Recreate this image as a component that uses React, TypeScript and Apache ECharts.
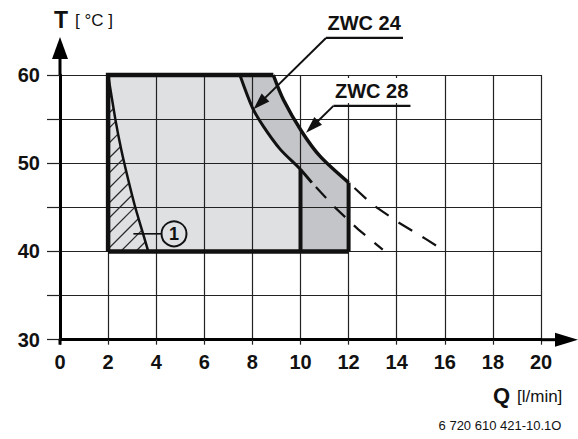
import { useEffect, useRef } from 'react';
import * as echarts from 'echarts';

// ---- axis data ----
const xTickLabels = ['0', '2', '4', '6', '8', '10', '12', '14', '16', '18', '20'];
const yTickLabels = ['30', '40', '50', '60'];
const xMin = 0, xMax = 20, xStep = 2;
const yMin = 30, yMax = 60, yStep = 5;

// ---- curves: [Q l/min, T °C] ----
const zwc24Solid = [[7.48, 60], [8.0, 56.3], [8.45, 54.2], [9.15, 51.6], [10.0, 49.3], [10.47, 47.8]];
const zwc24Dashed = [[10.47, 47.8], [11.43, 45.0], [12.4, 42.5], [13.42, 40.2]];
const zwc28Solid = [[8.87, 60], [9.29, 57.2], [10.05, 53.6], [10.81, 50.8], [12.0, 47.8]];
const zwc28Dashed = [[12.0, 47.8], [13.0, 45.3], [14.07, 43.3], [15.22, 41.4], [15.85, 40.3]];
const hatchCurve = [[2, 60], [2.3, 55], [2.55, 51.5], [2.84, 48.1], [3.12, 45.1], [3.4, 42.5], [3.67, 40]];
const frameTopLeft = [[2, 40], [2, 60], [8.87, 60]];
const frameBottom = [[2, 40], [12, 40]];
const wall24 = [[10, 40], [10, 49.3]];
const wall28 = [[12, 40], [12, 47.8]];

// regions
const zwc24Upper = zwc24Solid.filter((p) => p[0] <= 10);
const lightRegion = [[2, 40], [2, 60], ...zwc24Upper, [10, 40]];
const midRegion = [...zwc24Upper, [10, 40], [12, 40], ...zwc28Solid.slice().reverse()];

// annotations (data coordinates)
const notes = [
  { text: 'ZWC 24', anchor: [11.06, 64.2], tip: [8.04, 56.1], mask: false },
  { text: 'ZWC 28', anchor: [11.37, 56.5], tip: [10.23, 53.45], mask: true },
];
const marker = { text: '1', center: [4.74, 42.0], leaderFrom: [3.05, 42.0] };
const footer = '6 720 610 421-10.1O';

const LIGHT = '#dfe0e2';
const MID = '#c4c5c8';
const INK = '#111111';
const GRID = '#222222';
const FONT = '"Liberation Sans", Arial, Helvetica, sans-serif';

export default function App() {
  const ref = useRef<HTMLDivElement>(null);

  useEffect(() => {
    if (!ref.current) return;
    const chart = echarts.init(ref.current, undefined, { renderer: 'svg' });

    const fills = (_params: any, api: any) => {
      const px = (pts: number[][]) => pts.map((p) => api.coord(p));
      const children: any[] = [
        { type: 'polygon', shape: { points: px(lightRegion) }, style: { fill: LIGHT } },
        { type: 'polygon', shape: { points: px(midRegion) }, style: { fill: MID } },
      ];
      // hatch lines "/" inside area left of hatchCurve
      const hp = px(hatchCurve);
      const corner = api.coord([2, 40]);
      const xL = corner[0];
      const yB = corner[1];
      const sums = hp.map((p: number[]) => p[0] + p[1]);
      const cEnd = sums[sums.length - 1];
      const step = 15;
      for (let c = sums[0] + 9; c < cEnd - 2; c += step) {
        let sx: number, sy: number;
        if (c - xL <= yB) { sx = xL; sy = c - xL; } else { sx = c - yB; sy = yB; }
        let ex = sx, ey = sy;
        for (let i = 0; i < hp.length - 1; i++) {
          if (sums[i] <= c && c <= sums[i + 1]) {
            const t = (c - sums[i]) / (sums[i + 1] - sums[i]);
            ex = hp[i][0] + t * (hp[i + 1][0] - hp[i][0]);
            ey = hp[i][1] + t * (hp[i + 1][1] - hp[i][1]);
            break;
          }
        }
        children.push({ type: 'line', shape: { x1: sx, y1: sy, x2: ex, y2: ey }, style: { stroke: '#2a2a2a', lineWidth: 1.2 } });
      }
      return { type: 'group', children };
    };

    const strokes = (_params: any, api: any) => {
      const px = (pts: number[][]) => pts.map((p) => api.coord(p));
      const pl = (pts: number[][], w: number, extra: any = {}, smooth = 0) => ({
        type: 'polyline',
        shape: { points: px(pts), smooth },
        style: { stroke: INK, lineWidth: w, fill: 'none', lineJoin: 'miter', lineCap: 'butt', ...extra },
      });
      return {
        type: 'group',
        children: [
          pl(hatchCurve, 2.5, {}, 0.2),
          pl(zwc24Dashed, 2.2, { lineDash: [15, 12], lineDashOffset: -6 }),
          pl(zwc28Dashed, 2.2, { lineDash: [16, 12], lineDashOffset: -8 }),
          pl(zwc24Solid, 3, {}, 0.3),
          pl(zwc28Solid, 3.5, {}, 0.3),
          pl(wall24, 4),
          pl(wall28, 4),
          pl(frameBottom, 4.5),
          pl(frameTopLeft, 4.5),
        ],
      };
    };

    chart.setOption({
      animation: false,
      grid: { left: 60, right: 37, top: 75, bottom: 99.3, containLabel: false },
      xAxis: {
        type: 'value', min: xMin, max: xMax, interval: xStep, z: 3,
        axisLine: { show: true, lineStyle: { color: '#000', width: 3 } },
        axisTick: { show: true, length: 5, lineStyle: { color: GRID, width: 1.2 } },
        splitLine: { show: true, lineStyle: { color: GRID, width: 1.2 } },
        axisLabel: {
          show: true, margin: 12, color: INK, fontSize: 20, fontWeight: 'bold', fontFamily: FONT,
          showMinLabel: true, showMaxLabel: true,
          formatter: (v: number) => (xTickLabels.includes(String(v)) ? String(v) : ''),
        },
      },
      yAxis: {
        type: 'value', min: yMin, max: yMax, interval: yStep, z: 3,
        axisLine: { show: true, lineStyle: { color: '#000', width: 3 } },
        axisTick: { show: true, length: 13, lineStyle: { color: GRID, width: 1.2 } },
        splitLine: { show: true, lineStyle: { color: GRID, width: 1.2 } },
        axisLabel: {
          show: true, margin: 20, color: INK, fontSize: 20, fontWeight: 'bold', fontFamily: FONT,
          showMinLabel: true, showMaxLabel: true,
          formatter: (v: number) => (yTickLabels.includes(String(v)) ? String(v) : ''),
        },
      },
      series: [
        { type: 'custom', z: 1, data: [[0, 0]], renderItem: fills, silent: true, clip: false },
        { type: 'custom', z: 5, data: [[0, 0]], renderItem: strokes, silent: true, clip: false },
      ],
    });

    const P = (p: number[]) => chart.convertToPixel({ gridIndex: 0 }, p) as number[];
    const o = P([xMin, yMin]);
    const xe = P([xMax, yMin]);
    const ye = P([xMin, yMax]);
    const g: any[] = [];
    // axis extensions and arrows
    g.push({ type: 'line', z: 20, shape: { x1: xe[0], y1: xe[1], x2: xe[0] + 16, y2: xe[1] }, style: { stroke: '#000', lineWidth: 3 } });
    g.push({ type: 'polygon', z: 20, shape: { points: [[xe[0] + 14, xe[1] - 7], [xe[0] + 37, xe[1]], [xe[0] + 14, xe[1] + 7]] }, style: { fill: '#000' } });
    g.push({ type: 'line', z: 20, shape: { x1: ye[0], y1: ye[1], x2: ye[0], y2: ye[1] - 18 }, style: { stroke: '#000', lineWidth: 3 } });
    g.push({ type: 'line', z: 20, shape: { x1: o[0], y1: o[1], x2: o[0], y2: o[1] + 5 }, style: { stroke: '#000', lineWidth: 3 } });
    g.push({ type: 'polygon', z: 20, shape: { points: [[ye[0] - 8, ye[1] - 16], [ye[0], ye[1] - 38], [ye[0] + 8, ye[1] - 16]] }, style: { fill: '#000' } });
    // axis titles
    g.push({ type: 'text', z: 20, x: ye[0] - 6, y: ye[1] - 55, style: { text: 'T', font: `bold 23px ${FONT}`, fill: INK, align: 'left', verticalAlign: 'middle' } });
    g.push({ type: 'text', z: 20, x: ye[0] + 15, y: ye[1] - 54.5, style: { text: '[ °C ]', font: `17px ${FONT}`, fill: INK, align: 'left', verticalAlign: 'middle' } });
    g.push({ type: 'text', z: 20, x: xe[0] - 48, y: o[1] + 56, style: { text: 'Q', font: `bold 22px ${FONT}`, fill: INK, align: 'left', verticalAlign: 'middle' } });
    g.push({ type: 'text', z: 20, x: xe[0] - 24, y: o[1] + 56.5, style: { text: '[l/min]', font: `17px ${FONT}`, fill: INK, align: 'left', verticalAlign: 'middle' } });
    g.push({ type: 'text', z: 20, x: xe[0] - 41, y: o[1] + 86, style: { text: footer, font: `13px ${FONT}`, fill: INK, align: 'center', verticalAlign: 'middle' } });

    // ZWC notes
    notes.forEach((n) => {
      const a = P(n.anchor);
      const t = P(n.tip);
      const w = 77;
      if (n.mask) {
        g.push({ type: 'rect', z: 18, shape: { x: a[0] - 3, y: a[1] - 28, width: w + 6, height: 25 }, style: { fill: '#fff' } });
      }
      g.push({ type: 'text', z: 20, x: a[0] + 1.5, y: a[1] - 15, style: { text: n.text, font: `bold 20px ${FONT}`, fill: INK, align: 'left', verticalAlign: 'middle' } });
      g.push({ type: 'line', z: 20, shape: { x1: a[0], y1: a[1], x2: a[0] + w, y2: a[1] }, style: { stroke: INK, lineWidth: 2.2 } });
      const dx = t[0] - a[0], dy = t[1] - a[1];
      const len = Math.hypot(dx, dy);
      const ux = dx / len, uy = dy / len;
      const L = 17, H = 5.5;
      const bx = t[0] - ux * L, by = t[1] - uy * L;
      g.push({ type: 'line', z: 20, shape: { x1: a[0], y1: a[1], x2: bx + ux * 2, y2: by + uy * 2 }, style: { stroke: INK, lineWidth: 2 } });
      g.push({ type: 'polygon', z: 20, shape: { points: [[t[0], t[1]], [bx - uy * H, by + ux * H], [bx + uy * H, by - ux * H]] }, style: { fill: INK } });
    });

    // circled marker
    const c = P(marker.center);
    const lf = P(marker.leaderFrom);
    g.push({ type: 'line', z: 20, shape: { x1: lf[0], y1: lf[1], x2: c[0] - 12.5, y2: c[1] }, style: { stroke: INK, lineWidth: 1.6 } });
    g.push({ type: 'circle', z: 20, shape: { cx: c[0], cy: c[1], r: 12.5 }, style: { fill: LIGHT, stroke: INK, lineWidth: 2 } });
    g.push({ type: 'text', z: 21, x: c[0], y: c[1] + 0.5, style: { text: marker.text, font: `bold 18px ${FONT}`, fill: INK, align: 'center', verticalAlign: 'middle' } });

    chart.setOption({ graphic: g });

    return () => chart.dispose();
  }, []);

  return (
    <div
      ref={ref}
      style={{ position: 'fixed', left: 0, top: 0, width: 578, height: 439, background: '#fff' }}
    />
  );
}
